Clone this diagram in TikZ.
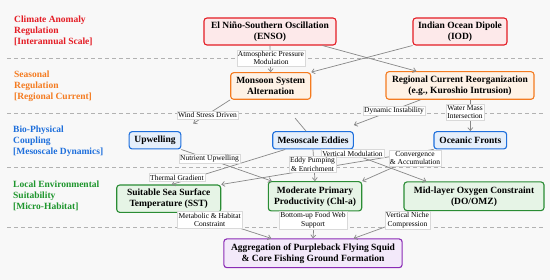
\documentclass[tikz,border=0pt]{standalone}
\usepackage{fontspec}
\setmainfont{Liberation Serif}
\usetikzlibrary{arrows.meta}

\definecolor{climred}{RGB}{228,28,36}
\definecolor{climfill}{RGB}{253,233,234}
\definecolor{seasorange}{RGB}{244,123,32}
\definecolor{seasfill}{RGB}{254,242,230}
\definecolor{bioblue}{RGB}{30,111,220}
\definecolor{biofill}{RGB}{229,239,251}
\definecolor{localgreen}{RGB}{42,140,52}
\definecolor{localtext}{RGB}{30,150,45}
\definecolor{localfill}{RGB}{230,244,230}
\definecolor{aggpurple}{RGB}{138,43,181}
\definecolor{aggfill}{RGB}{243,233,250}
\definecolor{linegray}{RGB}{135,135,135}
\definecolor{bggray}{RGB}{248,248,248}

\begin{document}
\begin{tikzpicture}[
    x=1pt, y=-1pt,
    box/.style       = {draw, rounded corners=3pt, line width=1.1pt, align=center,
                        inner sep=1pt, font=\rmfamily\fontsize{9.5}{11}\selectfont\bfseries},
    climbox/.style   = {box, draw=climred, fill=climfill},
    seasbox/.style   = {box, draw=seasorange, fill=seasfill},
    biobox/.style    = {box, draw=bioblue, fill=biofill},
    localbox/.style  = {box, draw=localgreen, fill=localfill},
    aggbox/.style    = {box, draw=aggpurple, fill=aggfill},
    layer/.style     = {anchor=west, align=left, inner sep=0pt,
                        font=\rmfamily\fontsize{9.5}{11}\selectfont\bfseries},
    tag/.style       = {fill=white, draw=black!15, line width=0.4pt, inner sep=1.2pt,
                        align=center, font=\rmfamily\fontsize{7.5}{8.5}\selectfont},
    flow/.style      = {-{Straight Barb[length=3pt,width=5pt]}, draw=linegray, line width=0.7pt},
    sep/.style       = {draw=black!30, line width=0.6pt, dash pattern=on 4pt off 3pt},
]

% ============================================================
%  CANVAS  (pixel grid, y grows downward)
% ============================================================
\useasboundingbox (0,0) rectangle (550,280);
\fill[bggray] (0,0) rectangle (550,280);

% layer separators
\foreach \y in {58,113,167,227}
    \draw[sep] (7,\y) -- (545,\y);

% ============================================================
%  LAYER TITLES  (left column)
% ============================================================
\node[layer, text=climred]    (Lclim)  at (14,31)  {Climate Anomaly\\Regulation\\{[Interannual Scale]}};
\node[layer, text=seasorange] (Lseas)  at (14,86)  {Seasonal\\Regulation\\{[Regional Current]}};
\node[layer, text=bioblue]    (Lbio)   at (13,141) {Bio-Physical\\Coupling\\{[Mesoscale Dynamics]}};
\node[layer, text=localtext]  (Llocal) at (13,196) {Local Environmental\\Suitability\\{[Micro-Habitat]}};

% ============================================================
%  LAYER 1  --  climate drivers
% ============================================================
\node[climbox, minimum width=132pt, minimum height=27pt] (enso) at (270,31.5)
    {El Niño-Southern Oscillation\\(ENSO)};
\node[climbox, minimum width=94pt, minimum height=27pt]  (iod)  at (460,31.5)
    {Indian Ocean Dipole\\(IOD)};

% ============================================================
%  LAYER 2  --  seasonal regulation
% ============================================================
\node[seasbox, minimum width=80pt, minimum height=26.6pt]  (monsoon) at (270.7,86)
    {Monsoon System\\Alternation};
\node[seasbox, minimum width=148pt, minimum height=27.6pt] (current) at (460,85.5)
    {Regional Current Reorganization\\(e.g., Kuroshio Intrusion)};

% ============================================================
%  LAYER 3  --  mesoscale processes
% ============================================================
\node[biobox, minimum width=51.7pt, minimum height=17.3pt] (upwell) at (155,140.3) {Upwelling};
\node[biobox, minimum width=80.6pt, minimum height=17.3pt] (eddies) at (313,140.3) {Mesoscale Eddies};
\node[biobox, minimum width=72.7pt, minimum height=17.3pt] (fronts) at (470.3,140.3) {Oceanic Fronts};

% ============================================================
%  LAYER 4  --  micro-habitat factors
% ============================================================
\node[localbox, minimum width=104pt, minimum height=27.3pt] (sst)    at (168.7,198.7)
    {Suitable Sea Surface\\Temperature (SST)};
\node[localbox, minimum width=93.4pt, minimum height=29.3pt] (chla)  at (315,196.3)
    {Moderate Primary\\Productivity (Chl-a)};
\node[localbox, minimum width=140pt, minimum height=28.7pt] (oxygen) at (474,196.3)
    {Mid-layer Oxygen Constraint\\(DO/OMZ)};

% ============================================================
%  OUTCOME
% ============================================================
\node[aggbox, minimum width=178.3pt, minimum height=28.7pt] (squid) at (313,253.3)
    {Aggregation of Purpleback Flying Squid\\\& Core Fishing Ground Formation};

% ============================================================
%  CONNECTORS
% ============================================================
\draw[flow] (enso.south) -- (monsoon.north);
\draw[flow] ([xshift=-14pt]enso.south east) -- ([xshift=31pt]current.north west);
\draw[flow] (iod.south west) -- (monsoon.north east);

\draw[flow, shorten >=14pt] (monsoon.south west) -- (upwell.north east);
\draw[draw=linegray, line width=0.7pt, shorten <=24pt]
    ([xshift=9pt]monsoon.south) -- ([xshift=-7pt]eddies.north);
\draw[flow] ([xshift=35pt]current.south west) -- ([yshift=6pt]eddies.north east);
\draw[flow] (fronts.north |- current.south) -- (fronts.north);

\draw[flow] (upwell.south east) -- ([xshift=4pt]chla.north west);
\draw[flow] ([xshift=13pt]eddies.south west) -- ([xshift=3pt]sst.north);
\draw[flow] (eddies.south) -- (chla.north);
\draw[flow] ([xshift=-13pt]eddies.south east) -- ([xshift=23pt]oxygen.north west);
\draw[flow] (fronts.south west) -- (chla.north east);
\draw[flow] (fronts.south west) -- (sst.north east);

\draw[flow] ([xshift=24pt]sst.south) -- ([xshift=48pt]squid.north west);
\draw[flow] (chla.south) -- (squid.north);
\draw[flow] ([xshift=25pt]oxygen.south west) -- ([xshift=-49pt]squid.north east);

% ============================================================
%  CONNECTOR LABELS
% ============================================================
\node[tag] (tPress)  at (271,58)     {Atmospheric Pressure\\Modulation};
\node[tag] (tWind)   at (207.5,115)  {Wind Stress Driven};
\node[tag] (tInstab) at (394,110.5)  {Dynamic Instability};
\node[tag] (tWater)  at (465,112)    {Water Mass\\Intersection};
\node[tag] (tNutr)   at (209.5,158.5){Nutrient Upwelling};
\node[tag] (tTherm)  at (177,177.5)  {Thermal Gradient};
\node[tag] (tVert)   at (352.5,153.5){Vertical Modulation};
\node[tag] (tPump)   at (312.5,164.3){Eddy Pumping\\\& Enrichment};
\node[tag] (tConv)   at (415,158.3)  {Convergence\\\& Accumulation};
\node[tag] (tMetab)  at (209.7,219.7){Metabolic \& Habitat\\Constraint};
\node[tag] (tFood)   at (313,220)    {Bottom-up Food Web\\Support};
\node[tag] (tNiche)  at (407.5,220)  {Vertical Niche\\Compression};

\end{tikzpicture}
\end{document}
